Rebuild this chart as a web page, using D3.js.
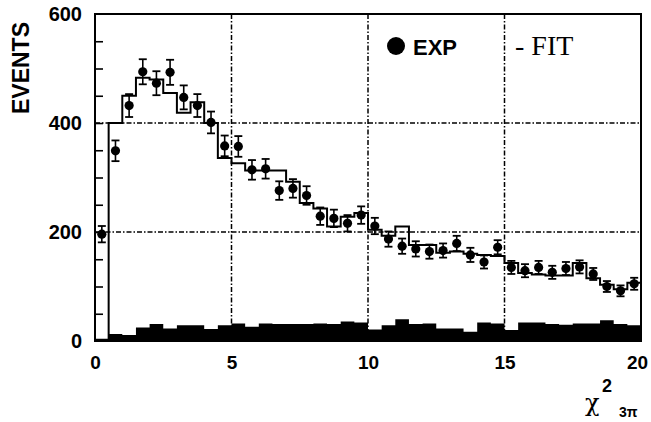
<!DOCTYPE html>
<html>
<head>
<meta charset="utf-8">
<script src="https://cdn.jsdelivr.net/npm/d3@7"></script>
<style>
  html, body { margin: 0; padding: 0; background: #fff; }
  svg { display: block; }
</style>
</head>
<body>
<svg id="chart" width="651" height="422"></svg>
<script>
// Bin centres of the chi-square distribution (bin width 0.5, range 0..20)
const binWidth = 0.5;
const binCenters = [
  0.25, 0.75, 1.25, 1.75, 2.25, 2.75, 3.25, 3.75, 4.25, 4.75,
  5.25, 5.75, 6.25, 6.75, 7.25, 7.75, 8.25, 8.75, 9.25, 9.75,
  10.25, 10.75, 11.25, 11.75, 12.25, 12.75, 13.25, 13.75, 14.25, 14.75,
  15.25, 15.75, 16.25, 16.75, 17.25, 17.75, 18.25, 18.75, 19.25, 19.75
];

// Measured events per bin
const expEvents = [
  196, 349, 432, 494, 473, 493, 447, 432, 401, 358,
  357, 314, 316, 276, 280, 267, 229, 225, 216, 231,
  211, 187, 174, 169, 164, 166, 179, 158, 145, 172,
  135, 129, 135, 126, 133, 136, 123, 100, 92, 105
];

// Statistical errors on the measured events
const expErrors = [
  15, 19, 21, 23, 22, 23, 22, 21, 20, 19,
  19, 18, 18, 17, 17, 17, 16, 16, 15, 16,
  15, 14, 14, 14, 13, 13, 14, 13, 12, 13,
  12, 12, 12, 12, 12, 12, 11, 10, 10, 11
];

// Fitted distribution per bin
const fitEvents = [
  0, 400, 450, 483, 480, 455, 419, 438, 400, 336,
  326, 313, 313, 313, 292, 253, 243, 210, 228, 235,
  204, 193, 210, 176, 176, 162, 164, 160, 158, 156,
  143, 125, 122, 120, 120, 143, 115, 103, 95, 107
];

// Background contribution per bin
const bgEvents = [
  4, 13, 11, 25, 31, 23, 29, 29, 22, 29,
  32, 26, 32, 31, 31, 31, 32, 31, 36, 34,
  21, 29, 40, 31, 32, 23, 23, 17, 34, 32,
  20, 34, 34, 31, 30, 32, 32, 38, 31, 29
];

const xTicks = [0, 5, 10, 15, 20];
const yMinorTicks = [50, 100, 150, 200, 250, 300, 350, 400, 450, 500, 550];
const yLabelTicks = [0, 200, 400, 600];
const xGrid = [5, 10, 15];
const yGrid = [200, 400];

const svg = d3.select("#chart");
const plotLeft = 95, plotRight = 641, plotTop = 14, plotBottom = 341;

const x = d3.scaleLinear().domain([0, 20]).range([plotLeft, plotRight]);
const y = d3.scaleLinear().domain([0, 600]).range([plotBottom, plotTop]);

const sans = "'Liberation Sans', Arial, Helvetica, sans-serif";
const serif = "'Liberation Serif', 'Times New Roman', serif";

// Step series: one point per bin left edge, last value repeated at the right edge
function stepData(values) {
  const pts = binCenters.map((c, i) => [c - binWidth / 2, values[i]]);
  pts.push([binCenters[binCenters.length - 1] + binWidth / 2, values[values.length - 1]]);
  return pts;
}

// Dash-dot grid lines
const gridDash = "5,2,1.5,2";
svg.append("g").selectAll("line").data(xGrid).join("line")
  .attr("x1", d => x(d)).attr("x2", d => x(d))
  .attr("y1", y(600)).attr("y2", y(0))
  .attr("stroke", "#000").attr("stroke-width", 1.5)
  .attr("stroke-dasharray", gridDash);
svg.append("g").selectAll("line").data(yGrid).join("line")
  .attr("x1", x(0)).attr("x2", x(20))
  .attr("y1", d => y(d)).attr("y2", d => y(d))
  .attr("stroke", "#000").attr("stroke-width", 1.5)
  .attr("stroke-dasharray", gridDash);

// Filled background histogram
const area = d3.area()
  .x(d => x(d[0]))
  .y0(y(0))
  .y1(d => y(d[1]))
  .curve(d3.curveStepAfter);
svg.append("path")
  .datum(stepData(bgEvents))
  .attr("d", area)
  .attr("fill", "#000");

// Fit histogram outline
const line = d3.line()
  .x(d => x(d[0]))
  .y(d => y(d[1]))
  .curve(d3.curveStepAfter);
svg.append("path")
  .datum(stepData(fitEvents))
  .attr("d", line)
  .attr("fill", "none")
  .attr("stroke", "#000")
  .attr("stroke-width", 2);

// Measured points with error bars
const pts = svg.append("g");
const capHalf = 4;
binCenters.forEach((c, i) => {
  const cx = x(c);
  const y1 = y(expEvents[i] + expErrors[i]);
  const y2 = y(expEvents[i] - expErrors[i]);
  pts.append("line").attr("x1", cx).attr("x2", cx).attr("y1", y1).attr("y2", y2)
    .attr("stroke", "#000").attr("stroke-width", 1.6);
  pts.append("line").attr("x1", cx - capHalf).attr("x2", cx + capHalf).attr("y1", y1).attr("y2", y1)
    .attr("stroke", "#000").attr("stroke-width", 1.8);
  pts.append("line").attr("x1", cx - capHalf).attr("x2", cx + capHalf).attr("y1", y2).attr("y2", y2)
    .attr("stroke", "#000").attr("stroke-width", 1.8);
  pts.append("circle").attr("cx", cx).attr("cy", y(expEvents[i])).attr("r", 4.6).attr("fill", "#000");
});

// Frame
svg.append("rect")
  .attr("x", plotLeft).attr("y", plotTop)
  .attr("width", plotRight - plotLeft).attr("height", plotBottom - plotTop)
  .attr("fill", "none").attr("stroke", "#000").attr("stroke-width", 2);

// Y axis: inward minor ticks, labels at 0/200/400/600
const yAxis = d3.axisLeft(y)
  .tickValues(yMinorTicks)
  .tickSizeInner(-8).tickSizeOuter(0)
  .tickFormat("");
const gy = svg.append("g").attr("transform", `translate(${plotLeft},0)`).call(yAxis);
gy.select(".domain").remove();
gy.selectAll(".tick line").attr("stroke-width", 1.6);

const yLab = d3.axisLeft(y).tickValues(yLabelTicks).tickSize(0).tickPadding(13);
const gyl = svg.append("g").attr("transform", `translate(${plotLeft},0)`).call(yLab);
gyl.select(".domain").remove();
gyl.selectAll("text")
  .attr("font-family", sans).attr("font-size", 20).attr("font-weight", "bold").attr("fill", "#000");

// X axis labels (the last one is kept inside the page edge)
const xAxis = d3.axisBottom(x).tickValues(xTicks).tickSize(0).tickPadding(15);
const gx = svg.append("g").attr("transform", `translate(0,${plotBottom})`).call(xAxis);
gx.select(".domain").remove();
gx.selectAll("text")
  .attr("font-family", sans).attr("font-size", 19).attr("font-weight", "bold").attr("fill", "#000");
gx.selectAll(".tick").filter(d => d === 20).select("text").attr("dx", -4);

// Y axis title
svg.append("text")
  .attr("transform", "translate(29,68) rotate(-90)")
  .attr("text-anchor", "middle")
  .attr("font-family", sans).attr("font-size", 23).attr("font-weight", "bold")
  .text("EVENTS");

// X axis title: chi-square with subscript 3π
const xt = svg.append("g");
xt.append("text").attr("x", 585).attr("y", 411)
  .attr("font-family", "'DejaVu Serif', serif").attr("font-size", 24).text("χ");
xt.append("text").attr("x", 602).attr("y", 392)
  .attr("font-family", sans).attr("font-size", 18).attr("font-weight", "bold").text("2");
xt.append("text").attr("x", 619).attr("y", 417)
  .attr("font-family", sans).attr("font-size", 14).attr("font-weight", "bold").text("3π");

// Legend
svg.append("circle").attr("cx", 396).attr("cy", 46).attr("r", 9).attr("fill", "#000");
svg.append("text").attr("x", 413).attr("y", 55)
  .attr("font-family", sans).attr("font-size", 22).attr("font-weight", "bold").text("EXP");
svg.append("text").attr("x", 515).attr("y", 55)
  .attr("font-family", serif).attr("font-size", 28).text("- FIT");
</script>
</body>
</html>
